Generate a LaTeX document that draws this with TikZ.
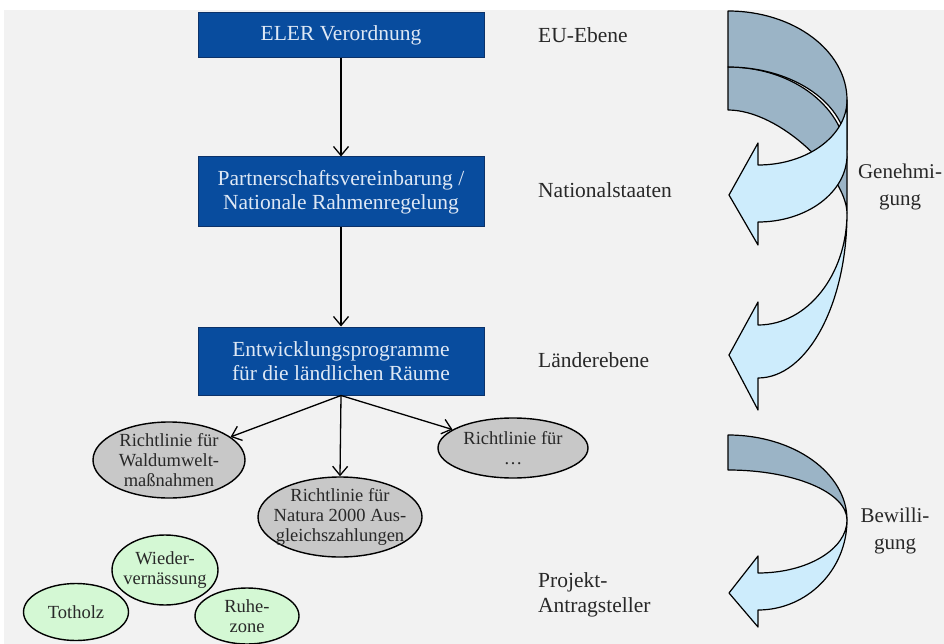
\documentclass[tikz,border=0pt]{standalone}
\usepackage{fontspec}
\setmainfont{Liberation Serif}
\usetikzlibrary{arrows.meta,shapes.geometric}
\definecolor{bg}{RGB}{242,242,242}
\definecolor{boxblue}{RGB}{8,76,158}
\definecolor{boxedge}{RGB}{12,50,105}
\definecolor{boxtext}{RGB}{222,232,245}
\definecolor{labelgray}{RGB}{40,40,40}
\definecolor{ellgray}{RGB}{200,200,200}
\definecolor{ellgreen}{RGB}{212,248,212}
\definecolor{backblue}{RGB}{155,180,198}
\definecolor{frontblue}{RGB}{205,236,252}
\begin{document}
\begin{tikzpicture}[x=1pt,y=1pt,
  bluebox/.style={draw=boxedge, line width=1pt, fill=boxblue, text=boxtext,
    minimum width=286pt, align=center, inner sep=0pt,
    font=\fontsize{21.5}{24}\selectfont},
  lvl/.style={anchor=west, text=labelgray, align=left, inner sep=0pt,
    font=\fontsize{21.5}{25}\selectfont},
  side/.style={text=labelgray, align=center, inner sep=0pt,
    font=\fontsize{21}{27}\selectfont},
  gell/.style={ellipse, draw=black, line width=1.4pt, fill=ellgray, inner sep=0pt},
  grell/.style={ellipse, draw=black, line width=1.4pt, fill=ellgreen, inner sep=0pt},
  etext/.style={text=labelgray, align=center, inner sep=0pt,
    font=\fontsize{18.5}{20}\selectfont},
  arr/.style={draw=black, line width=1.3pt, -{Straight Barb[length=9pt,width=15pt]}},
  rib/.style={draw=black, line width=1.2pt, line join=round}
]
% background
\useasboundingbox (0,0) rectangle (944,-644);
\fill[white] (0,0) rectangle (944,-644);
\fill[bg] (4,-10) rectangle (944,-644);

% blue boxes
\node[bluebox, minimum height=45pt] (b1) at (341,-35.5) {ELER Verordnung};
\node[bluebox, minimum height=70pt] (b2) at (341,-192) {Partnerschaftsvereinbarung /\\Nationale Rahmenregelung};
\node[bluebox, minimum height=68pt] (b3) at (341,-361) {Entwicklungsprogramme\\für die ländlichen Räume};

% level labels
\node[lvl] (l1) at (538,-35) {EU-Ebene};
\node[lvl] (l2) at (538,-190) {Nationalstaaten};
\node[lvl] (l3) at (538,-360) {Länderebene};
\node[lvl] (l4) at (538,-595) {Projekt-\\Antragsteller};

% gray ellipses
\node[gell, minimum width=152pt, minimum height=76pt] (r1) at (169,-460) {};
\node[etext] (r1t) at (r1) {Richtlinie für\\Waldumwelt-\\maßnahmen};
\node[gell, minimum width=164pt, minimum height=80pt] (r2) at (340,-517) {};
\node[etext] (r2t) at (r2) {Richtlinie für\\Natura 2000 Aus-\\gleichszahlungen};
\node[gell, minimum width=150pt, minimum height=60pt] (r3) at (513,-448) {};
\node[etext] (r3t) at (r3) {Richtlinie für\\…};

% green ellipses
\node[grell, minimum width=106pt, minimum height=70pt] (g2) at (165,-570) {};
\node[etext] (g2t) at (g2) {Wieder-\\vernässung};
\node[grell, minimum width=105pt, minimum height=57pt] (g1) at (76,-612) {};
\node[etext] (g1t) at (g1) {Totholz};
\node[grell, minimum width=104pt, minimum height=56pt] (g3) at (247,-616) {};
\node[etext] (g3t) at (g3) {Ruhe-\\zone};

% connectors
\draw[arr] (b1.south) -- (b2.north);
\draw[arr] (b2.south) -- (b3.north);
\draw[arr] (b3.south) -- (r2.north);
\draw[arr] (b3.south) -- (r1);
\draw[arr] (b3.south) -- (r3);

% Genehmigung ribbon arrows
\fill[white] (728,-11) arc[start angle=90,end angle=0,x radius=119,y radius=89]
  -- (847,-213) .. controls (846,-175) and (780,-110) .. (728,-110) -- cycle;
% back of lower arrow
\filldraw[rib, fill=backblue] (728,-67) arc[start angle=90,end angle=0,x radius=119,y radius=93]
  -- (847,-213) .. controls (846,-175) and (780,-110) .. (728,-110) -- cycle;
% back of upper arrow
\filldraw[rib, fill=backblue] (728,-11) arc[start angle=90,end angle=0,x radius=119,y radius=89]
  -- (847,-150) arc[start angle=0,end angle=90,x radius=119,y radius=83] -- cycle;
% front of upper arrow
\filldraw[rib, fill=frontblue] (847,-100) -- (847,-155)
  arc[start angle=0,end angle=-90,x radius=89,y radius=67]
  -- (758,-245) -- (729,-195) -- (758,-143) -- (758,-165)
  arc[start angle=-90,end angle=0,x radius=89,y radius=65] -- cycle;
% front of lower arrow
\filldraw[rib, fill=frontblue] (847,-213)
  arc[start angle=0,end angle=-90,x radius=89,y radius=165]
  -- (758,-410) -- (729,-355) -- (758,-302) -- (758,-325)
  arc[start angle=-90,end angle=0,x radius=89,y radius=112] -- cycle;

% Bewilligung ribbon arrow
\filldraw[rib, fill=backblue] (728,-435) arc[start angle=90,end angle=0,x radius=119,y radius=85]
  arc[start angle=0,end angle=90,x radius=119,y radius=50] -- cycle;
\filldraw[rib, fill=frontblue] (847,-520)
  arc[start angle=0,end angle=-90,x radius=89,y radius=90]
  -- (758,-627) -- (729,-593) -- (758,-556) -- (758,-573)
  arc[start angle=-90,end angle=0,x radius=89,y radius=53] -- cycle;

% side labels
\node[side] (s1) at (900,-187) {Genehmi-\\gung};
\node[side] (s2) at (895,-531) {Bewilli-\\gung};
\end{tikzpicture}
\end{document}
